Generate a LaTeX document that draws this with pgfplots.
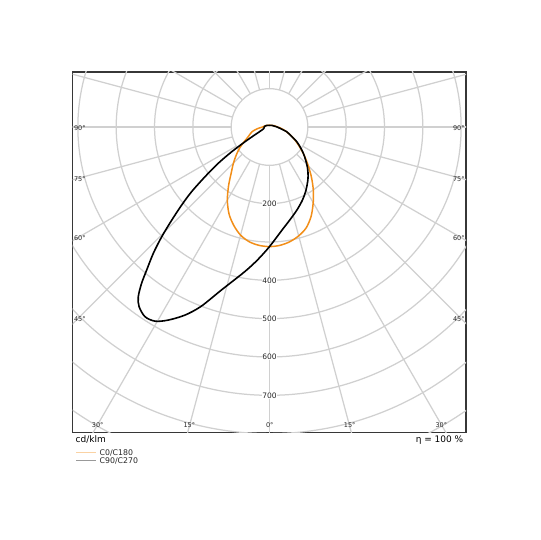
\documentclass[border=0pt]{standalone}
\usepackage{fontspec}
\setmainfont{DejaVu Sans}
\usepackage{pgfplots}
\usepackage{pgfplotstable}
\pgfplotsset{compat=1.18}
\definecolor{orangec}{RGB}{242,142,24}
\definecolor{gridc}{RGB}{208,208,208}
\definecolor{framec}{RGB}{55,55,55}

% C0/C180 : gamma (deg, negative = C180 side), intensity (cd/klm)
\pgfplotstableread{
g r
-180 5
-150 5
-120 8
-105 12
-90 18
-85 26
-80 36
-75 47
-70 54
-65 62
-60 76
-55 95
-50 113
-45 133
-40 155
-35 186
-30 220
-25 250
-20 273
-15 292
-10 304
-5 310
0 312
5 310
10 304
15 294
20 280
25 257
30 228
35 199
40 170
45 143
50 120
55 100
60 83
65 69
70 56
75 45
80 36
85 28
90 21
105 13
120 8
150 5
180 5
}\orangetab

% C90/C270
\pgfplotstableread{
g r
-180 4
-150 5
-120 8
-105 11
-90 14
-72 17
-61.5 46
-59 74.5
-56.8 118
-54.7 164
-52.4 212
-50.3 264
-48.4 306
-46.4 352
-44.5 401
-42.6 448
-40.65 492
-39.3 527
-37.7 560
-36.0 579
-33.3 592
-30.5 588
-27.7 569
-24.2 538
-20.9 501
-16.4 443
-9.6 382
-5.0 347
0 312
6.9 271
12.4 248
18.3 228
24.3 209
30.1 190
37 167
43.6 143
52.1 112
61.6 81
74.7 46.5
77.7 37
90 20
100 13
120 8
150 5
180 4
}\blacktab

\begin{document}
\begin{tikzpicture}[x=1pt,y=1pt]
\path[use as bounding box] (0,0) rectangle (540,540);
\begin{axis}[
  at={(72.5pt,107.5pt)}, anchor=south west,
  scale only axis, width=393.5pt, height=360.5pt,
  xmin=-514, xmax=512.7, ymin=-797, ymax=143.5,
  xtick=\empty, ytick=\empty,
  axis line style={framec, line width=1.5pt},
]
\begin{scope}
\clip (rel axis cs:0,0) rectangle (rel axis cs:1,1);
\pgfplotsinvokeforeach{100,200,...,1000}{\draw[gridc, line width=1.25pt] (axis cs:0,0) circle[radius=#1];}
\pgfplotsinvokeforeach{0,15,...,345}{\draw[gridc, line width=1.25pt] (axis cs:{100*sin(#1)},{-100*cos(#1)}) -- (axis cs:{1300*sin(#1)},{-1300*cos(#1)});}
\end{scope}
\pgfplotsinvokeforeach{200,400,500,600,700}{
  \node[fill=white, inner sep=0.6pt, font=\fontsize{7.5}{8}\selectfont, text=black!85] at (axis cs:0,-#1) {#1};
}
\addplot[orangec, line width=1.5pt, smooth, tension=0.5] table[x expr={\thisrow{r}*sin(\thisrow{g})}, y expr={-\thisrow{r}*cos(\thisrow{g})}] {\orangetab};
\addplot[black, line width=1.6pt, smooth, tension=0.5] table[x expr={\thisrow{r}*sin(\thisrow{g})}, y expr={-\thisrow{r}*cos(\thisrow{g})}] {\blacktab};
\end{axis}
% angle labels
\begin{scope}[every node/.style={inner sep=0pt, font=\fontsize{6.5}{7}\selectfont, text=black!85}]
\node[anchor=west] at (73.8,412.3) {90°};
\node[anchor=west] at (73.8,360.7) {75°};
\node[anchor=west] at (73.8,302.3) {60°};
\node[anchor=west] at (73.8,221.3) {45°};
\node[anchor=east] at (464.8,412.3) {90°};
\node[anchor=east] at (464.8,360.7) {75°};
\node[anchor=east] at (464.8,302.3) {60°};
\node[anchor=east] at (464.8,221.3) {45°};
\node at (97.7,115) {30°};
\node at (189.3,115) {15°};
\node at (269.8,115) {0°};
\node at (349.7,115) {15°};
\node at (441.3,115) {30°};
\end{scope}
\node[anchor=base west, inner sep=0pt, font=\fontsize{9}{10}\selectfont] at (75.5,97.3) {cd/klm};
\node[anchor=base east, inner sep=0pt, font=\fontsize{9}{10}\selectfont] at (463.5,97.3) {η = 100 \%};
% legend
\draw[orangec!40, line width=0.8pt] (76,87.3) -- (96,87.3);
\draw[black!40, line width=0.8pt] (76,79.3) -- (96,79.3);
\node[anchor=base west, inner sep=0pt, font=\fontsize{7.8}{8}\selectfont, text=black!85] at (99.5,84.3) {C0/C180};
\node[anchor=base west, inner sep=0pt, font=\fontsize{7.8}{8}\selectfont, text=black!85] at (99.5,76.7) {C90/C270};
\end{tikzpicture}
\end{document}
